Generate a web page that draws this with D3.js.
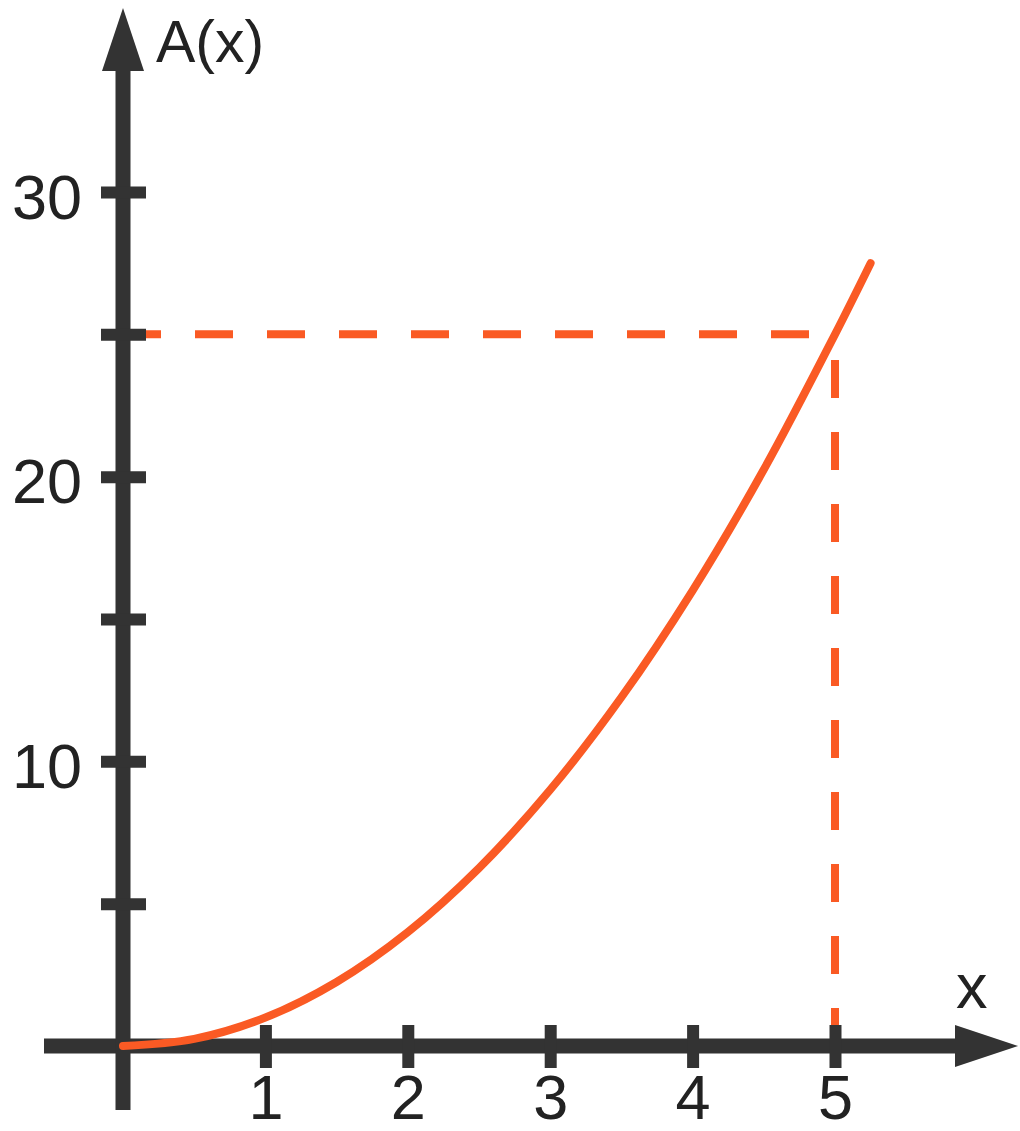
<!DOCTYPE html>
<html lang="en">
<meta charset="UTF-8">
<title>A(x)</title>
<style>
html, body { margin: 0; padding: 0; background: #fff; }
svg { display: block; }
.label { font-family: "Liberation Sans", Arial, Helvetica, sans-serif; fill: #222; }
</style>
<body>
<script src="https://d3js.org/d3.v7.min.js"></script>
<script>
// values
var curveX = [0, 0.5, 1, 1.5, 2, 2.5, 3, 3.5, 4, 4.5, 5, 5.25]
var curveA = [0, 0.25, 1, 2.25, 4, 6.25, 9, 12.25, 16, 20.25, 25, 27.5]
var xTicks = [1, 2, 3, 4, 5]
var yTicks = [5, 10, 15, 20, 25, 30]
var yLabels = [10, 20, 30]
var markX = 5, markA = 25

var width = 1020, height = 1131
var axisColor = "#333333", orange = "#fa5a24"

var svg = d3.select("body").append("svg")
  .attr("width", width)
  .attr("height", height)

var x = d3.scaleLinear().domain([0, 5]).range([123, 835])
var y = d3.scaleLinear().domain([0, 30]).range([1046, 192])

// dashed guide lines (under the axes)
svg.append("line")
  .attr("x1", x(0)).attr("y1", y(markA))
  .attr("x2", x(markX)).attr("y2", y(markA))
  .attr("stroke", orange).attr("stroke-width", 8)
  .attr("stroke-dasharray", "38,34")

svg.append("line")
  .attr("x1", x(markX)).attr("y1", y(0))
  .attr("x2", x(markX)).attr("y2", y(markA))
  .attr("stroke", orange).attr("stroke-width", 8)
  .attr("stroke-dasharray", "38,34")

// axis lines with arrows
svg.append("line")
  .attr("x1", 44).attr("y1", y(0))
  .attr("x2", 958).attr("y2", y(0))
  .attr("stroke", axisColor).attr("stroke-width", 15)
svg.append("path")
  .attr("d", "M955," + (y(0) - 21) + "L1018," + y(0) + "L955," + (y(0) + 21) + "Z")
  .attr("fill", axisColor)

svg.append("line")
  .attr("x1", x(0)).attr("y1", 1110)
  .attr("x2", x(0)).attr("y2", 68)
  .attr("stroke", axisColor).attr("stroke-width", 15)
svg.append("path")
  .attr("d", "M" + (x(0) - 21) + ",71L" + x(0) + ",8L" + (x(0) + 21) + ",71Z")
  .attr("fill", axisColor)

// ticks
var xAxis = d3.axisBottom(x).tickValues(xTicks).tickSize(0).tickPadding(0)
  .tickFormat(d3.format("d"))
var gx = svg.append("g")
  .attr("transform", "translate(0," + y(0) + ")")
  .call(xAxis)
gx.select(".domain").remove()
gx.selectAll(".tick line")
  .attr("y1", -21).attr("y2", 22)
  .attr("stroke", axisColor).attr("stroke-width", 12)
gx.selectAll(".tick text")
  .attr("class", "label")
  .attr("y", 73).attr("dy", null)
  .attr("font-size", 63)

var yAxis = d3.axisLeft(y).tickValues(yTicks).tickSize(0)
  .tickFormat(function(d) { return yLabels.indexOf(d) >= 0 ? d : "" })
var gy = svg.append("g")
  .attr("transform", "translate(" + x(0) + ",0)")
  .call(yAxis)
gy.select(".domain").remove()
gy.selectAll(".tick line")
  .attr("x1", -22).attr("x2", 23)
  .attr("stroke", axisColor).attr("stroke-width", 12)
gy.selectAll(".tick text")
  .attr("class", "label")
  .attr("x", -41).attr("dy", 26)
  .attr("font-size", 63)
  .attr("text-anchor", "end")

// axis titles
svg.append("text")
  .attr("class", "label")
  .attr("x", 156).attr("y", 62)
  .attr("font-size", 59)
  .text("A(x)")

svg.append("text")
  .attr("class", "label")
  .attr("x", 956).attr("y", 1008)
  .attr("font-size", 63)
  .text("x")

// curve
var line = d3.line()
  .x(function(d, i) { return x(d) })
  .y(function(d, i) { return y(curveA[i]) })
  .curve(d3.curveCatmullRom)

svg.append("path")
  .attr("d", line(curveX))
  .attr("fill", "none")
  .attr("stroke", orange)
  .attr("stroke-width", 8)
  .attr("stroke-linecap", "round")
</script>
</body>
</html>
